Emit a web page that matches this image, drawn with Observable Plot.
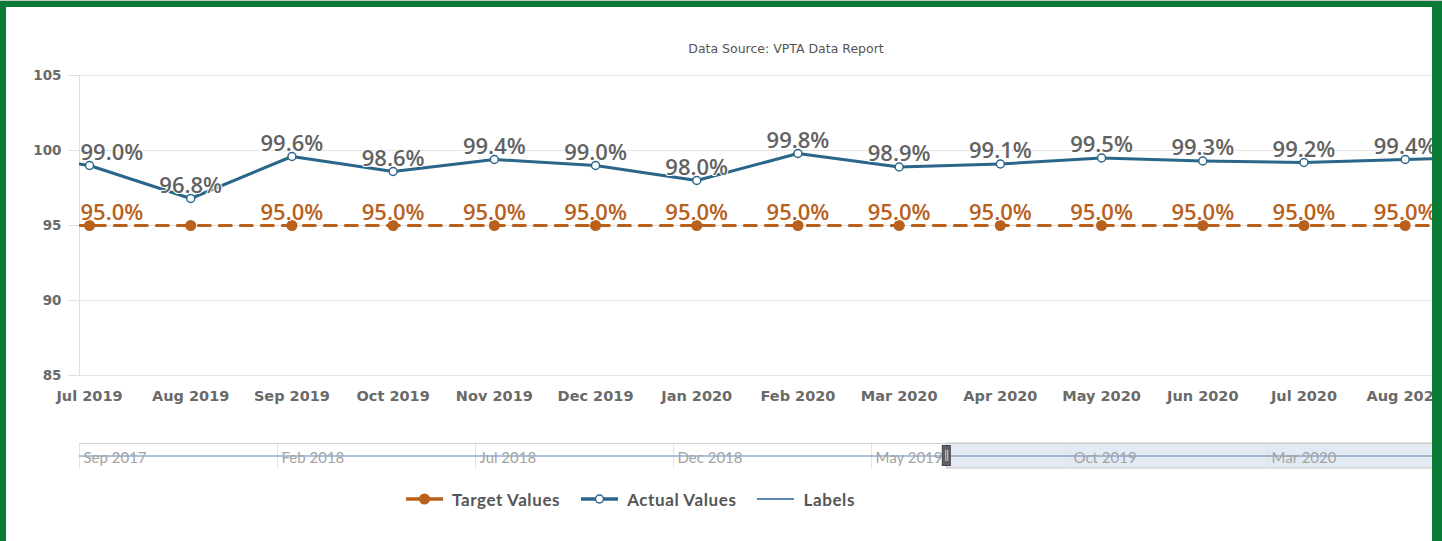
<!DOCTYPE html>
<html>
<head>
<meta charset="utf-8">
<script src="https://cdn.jsdelivr.net/npm/d3@7"></script>
<script src="https://cdn.jsdelivr.net/npm/@observablehq/plot@0.6"></script>
<style>
  html, body { margin: 0; padding: 0; background: #fff; overflow: hidden; }
  #wrap { position: relative; width: 1442px; height: 541px; overflow: hidden; background: #fff; font-family: "DejaVu Sans", sans-serif; }
  #title { position: absolute; left: 0; width: 1572px; top: 41px; text-align: center; font-size: 12.5px; color: #555; }
  #main { position: absolute; left: 0; top: 0; }
  #nav { position: absolute; left: 0; top: 435px; }
  #legend { position: absolute; left: 406px; top: 489px; height: 20px; display: flex; align-items: center;
            font-family: Lato, sans-serif; font-weight: bold; font-size: 17px; letter-spacing: 0.6px; color: #555; }
  #legend .item { display: flex; align-items: center; margin-right: 21px; }
  #legend svg { margin-right: 9px; }
  .bd { position: absolute; background: #0a7a37; z-index: 10; }
</style>
</head>
<body>
<div id="wrap">
  <div id="title">Data Source: VPTA Data Report</div>
  <div id="main"></div>
  <div id="nav"></div>
  <div id="legend"></div>
  <div class="bd" style="left:0;top:0;width:1442px;height:7px;"></div>
  <div class="bd" style="left:0;top:0;width:6px;height:541px;"></div>
  <div class="bd" style="left:1432px;top:0;width:10px;height:541px;"></div>
  <div style="position:absolute;left:0;top:0;width:1442px;height:1px;background:#c8c8c8;z-index:11"></div>
</div>
<script>
// ---- data ----
const months = ["Jun 2019", "Jul 2019", "Aug 2019", "Sep 2019", "Oct 2019", "Nov 2019", "Dec 2019",
                "Jan 2020", "Feb 2020", "Mar 2020", "Apr 2020", "May 2020", "Jun 2020", "Jul 2020",
                "Aug 2020", "Sep 2020"];
const actualValues = [99.9, 99.0, 96.8, 99.6, 98.6, 99.4, 99.0, 98.0, 99.8, 98.9, 99.1, 99.5, 99.3, 99.2, 99.4, 99.6];
const targetValues = [95.0, 95.0, 95.0, 95.0, 95.0, 95.0, 95.0, 95.0, 95.0, 95.0, 95.0, 95.0, 95.0, 95.0, 95.0, 95.0];
const yTicks = [85, 90, 95, 100, 105];
const xTickLabels = ["Jul 2019", "Aug 2019", "Sep 2019", "Oct 2019", "Nov 2019", "Dec 2019", "Jan 2020",
                     "Feb 2020", "Mar 2020", "Apr 2020", "May 2020", "Jun 2020", "Jul 2020", "Aug 2020"];
const navTickLabels = ["Sep 2017", "Feb 2018", "Jul 2018", "Dec 2018", "May 2019", "Oct 2019", "Mar 2020"];
const labelsLevel = [0];

// ---- styles ----
const ORANGE = "#b8601c";
const BLUE = "#2a6689";
const NAVBLUE = "#5f86b5";

const parse = d3.timeParse("%b %Y");
const base = parse("Jul 2019");
function monthIdx(s) {
  const d = parse(s);
  return d < base ? -d3.timeMonth.count(d, base) : d3.timeMonth.count(base, d);
}

const data = months.map((m, i) => ({month: m, idx: monthIdx(m), actual: actualValues[i], target: targetValues[i]}));
const shown = data.filter(d => xTickLabels.includes(d.month));
const first = shown.slice(0, 1);
const rest = shown.slice(1);
const targetShown = shown.filter(d => d.actual - d.target > 2);
const tFirst = targetShown.filter(d => d.idx === shown[0].idx);
const tRest = targetShown.filter(d => d.idx !== shown[0].idx);

const xDomain = [-0.099, 13.27];
const labelFont = {fontFamily: "Open Sans", fontSize: 22, fontWeight: 600, lineAnchor: "bottom", dy: -6,
                   stroke: "white", strokeWidth: 2, paintOrder: "stroke"};
const xTickIdx = xTickLabels.map(monthIdx);

const main = Plot.plot({
  width: 1442, height: 410,
  marginLeft: 79, marginRight: 10, marginTop: 75, marginBottom: 35,
  style: {background: "transparent", overflow: "visible"},
  x: {type: "linear", domain: xDomain},
  y: {domain: [85, 105]},
  marks: [
    Plot.gridY(yTicks, {stroke: "#e3e3e3", strokeOpacity: 1}),
    Plot.axisY({ticks: yTicks, tickSize: 11, tickPadding: 7, stroke: "#e0e0e0", strokeOpacity: 1,
                fill: "#6a6a6a", fontSize: 13.5, fontWeight: "bold", fontFamily: "DejaVu Sans", label: null}),
    Plot.axisX({ticks: xTickIdx, tickFormat: i => xTickLabels[xTickIdx.indexOf(i)],
                tickSize: 0, tickPadding: 15, fill: "#6a6a6a", fontSize: 14.5, fontWeight: "bold",
                fontFamily: "DejaVu Sans", label: null}),
    Plot.ruleX([xDomain[0]], {stroke: "#e0e0e0"}),
    Plot.line(data, {x: "idx", y: "target", stroke: ORANGE, strokeWidth: 3, strokeDasharray: "12,9", clip: true}),
    Plot.line(data, {x: "idx", y: "actual", stroke: BLUE, strokeWidth: 3, clip: true}),
    Plot.dot(shown, {x: "idx", y: "target", r: 5.5, fill: ORANGE}),
    Plot.dot(shown, {x: "idx", y: "actual", r: 4, fill: "white", stroke: BLUE, strokeWidth: 1.5}),
    Plot.text(first, {x: "idx", y: "actual", text: d => d.actual.toFixed(1) + "%", fill: "#626262", textAnchor: "start", dx: -9, ...labelFont}),
    Plot.text(rest, {x: "idx", y: "actual", text: d => d.actual.toFixed(1) + "%", fill: "#626262", ...labelFont}),
    Plot.text(tFirst, {x: "idx", y: "target", text: d => d.target.toFixed(1) + "%", fill: ORANGE, textAnchor: "start", dx: -9, ...labelFont}),
    Plot.text(tRest, {x: "idx", y: "target", text: d => d.target.toFixed(1) + "%", fill: ORANGE, ...labelFont})
  ]
});
document.getElementById("main").appendChild(main);

// ---- navigator ----
const navStartIdx = monthIdx(navTickLabels[0]);
const navDomain = [navStartIdx, navStartIdx + 1353 / 39.6];
const navTicks = navTickLabels.map(monthIdx);
const nav = Plot.plot({
  width: 1442, height: 40,
  marginLeft: 79, marginRight: 10, marginTop: 8, marginBottom: 7,
  style: {background: "transparent", overflow: "visible"},
  x: {type: "linear", domain: navDomain, axis: null},
  y: {domain: [-1, 1], axis: null},
  marks: [
    Plot.rect([xDomain[0]], {x1: d => d, x2: navDomain[1] + 1, y1: -1, y2: 1, fill: "#e4eaf4", stroke: "#c8c8c8"}),
    Plot.ruleX(navTicks, {stroke: "#e3e3e3"}),
    Plot.ruleY([1], {stroke: "#cfcfcf"}),
    Plot.ruleY(labelsLevel, {stroke: NAVBLUE, strokeWidth: 1.2}),
    Plot.text(navTickLabels, {x: monthIdx, y: 0, text: d => d, textAnchor: "start", dx: 4, dy: 2,
               fill: "#a3a3a3", fontFamily: "Lato", fontSize: 15, lineAnchor: "middle"}),
    Plot.rect([xDomain[0]], {x1: d => d, x2: d => d, y1: -0.8, y2: 0.8, insetLeft: -4, insetRight: -4, fill: "#5f5f5f", stroke: "#444"}),
    Plot.ruleX([xDomain[0]], {y1: -0.45, y2: 0.45, stroke: "#cfcfcf", dx: -1}),
    Plot.ruleX([xDomain[0]], {y1: -0.45, y2: 0.45, stroke: "#cfcfcf", dx: 1})
  ]
});
document.getElementById("nav").appendChild(nav);

// ---- legend ----
const legendItems = [
  {name: "Target Values", color: ORANGE, w: 3.5, dot: {r: 5.5, fill: ORANGE, stroke: "none"}},
  {name: "Actual Values", color: BLUE, w: 3.5, dot: {r: 4, fill: "white", stroke: BLUE}},
  {name: "Labels", color: NAVBLUE, w: 2, dot: null}
];
const lg = d3.select("#legend");
for (const it of legendItems) {
  const item = lg.append("div").attr("class", "item");
  const svg = item.append("svg").attr("width", 37).attr("height", 20);
  svg.append("line").attr("x1", 0).attr("x2", 37).attr("y1", 10).attr("y2", 10).attr("stroke", it.color).attr("stroke-width", it.w);
  if (it.dot) svg.append("circle").attr("cx", 18.5).attr("cy", 10).attr("r", it.dot.r).attr("fill", it.dot.fill).attr("stroke", it.dot.stroke).attr("stroke-width", 1.5);
  item.append("span").text(it.name);
}
</script>
</body>
</html>
